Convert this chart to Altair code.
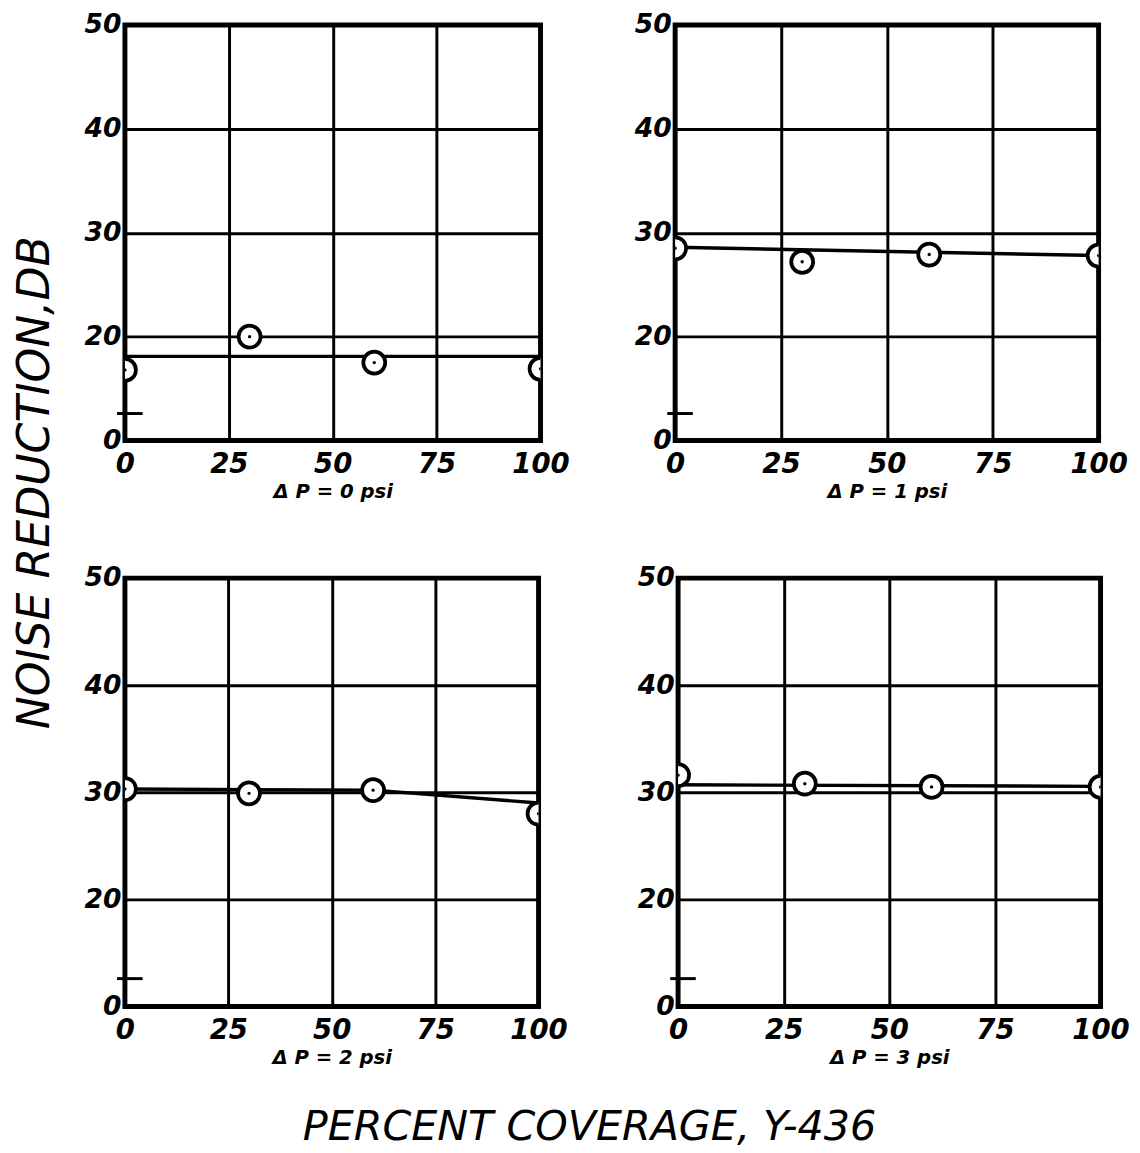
import altair as alt
import pandas as pd

# ---------------- data ----------------
coverage = [0, 30, 60, 100]                      # percent coverage of measured points
panel_titles = ["Δ P = 0  psi", "Δ P = 1  psi", "Δ P = 2  psi", "Δ P = 3  psi"]

nr_dp0 = [16.8, 20.0, 17.5, 16.9]                # noise reduction, dB
nr_dp1 = [28.5, 27.2, 27.9, 27.8]
nr_dp2 = [30.3, 29.9, 30.2, 28.0]
nr_dp3 = [31.6, 30.8, 30.5, 30.5]

fit_x_dp0 = [0, 100]
fit_y_dp0 = [18.1, 18.1]
fit_x_dp1 = [0, 100]
fit_y_dp1 = [28.6, 27.8]
fit_x_dp2 = [0, 60, 100]
fit_y_dp2 = [30.3, 30.2, 29.0]
fit_x_dp3 = [0, 100]
fit_y_dp3 = [30.7, 30.55]

x_ticks = [0, 25, 50, 75, 100]
y_ticks = [10, 20, 30, 40, 50]                   # 10 = broken-axis position, labelled "0"
break_x = [0]
break_y = [12.6]

FONT = "DejaVu Sans"


def panel(nr, fx, fy, title, w, h):
    pts = pd.DataFrame({"cov": coverage, "nr": nr})
    fit = pd.DataFrame({"cov": fx, "nr": fy})
    brk = pd.DataFrame({"cov": break_x, "nr": break_y})

    xs = alt.Scale(domain=[0, 100], nice=False, zero=False)
    ys = alt.Scale(domain=[10, 50], nice=False, zero=False)
    xax = alt.Axis(values=x_ticks, grid=True, gridColor="black", gridWidth=3, gridOpacity=1,
                   ticks=False, domain=False, labelFont=FONT, labelFontSize=28,
                   labelFontStyle="italic", labelFontWeight="bold", labelPadding=11,
                   labelColor="black", labelFlush=False,
                   title=title, titleFont=FONT, titleFontSize=20, titleFontStyle="italic",
                   titleFontWeight="bold", titleColor="black", titlePadding=3)
    yax = alt.Axis(values=y_ticks, grid=True, gridColor="black", gridWidth=3, gridOpacity=1,
                   ticks=False, domain=False, labelFont=FONT, labelFontSize=27,
                   labelFontStyle="italic", labelFontWeight="bold", labelPadding=4,
                   labelColor="black", labelFlush=False,
                   labelExpr="datum.value == 10 ? '0' : datum.label", title=None)

    base_grid = alt.Chart(fit).mark_line(opacity=0).encode(
        x=alt.X("cov:Q", scale=xs, axis=xax),
        y=alt.Y("nr:Q", scale=ys, axis=yax),
    )
    line = alt.Chart(fit).mark_line(color="black", strokeWidth=3.5).encode(
        x=alt.X("cov:Q", scale=xs), y=alt.Y("nr:Q", scale=ys))
    circles = alt.Chart(pts).mark_point(shape="circle", size=500, filled=False,
                                        stroke="black", strokeWidth=3.8, fill="white",
                                        fillOpacity=1, opacity=1, clip=True).encode(
        x=alt.X("cov:Q", scale=xs), y=alt.Y("nr:Q", scale=ys))
    dots = alt.Chart(pts).mark_point(shape="circle", size=12, filled=True,
                                     color="black", opacity=1, clip=True).encode(
        x=alt.X("cov:Q", scale=xs), y=alt.Y("nr:Q", scale=ys))
    brk_mark = alt.Chart(brk).mark_tick(orient="horizontal", color="black", size=26,
                                         thickness=3, opacity=1, xOffset=5).encode(
        x=alt.X("cov:Q", scale=xs), y=alt.Y("nr:Q", scale=ys))

    return alt.layer(base_grid, line, circles, dots, brk_mark).properties(
        width=w, height=h,
        view=alt.ViewBackground(stroke="black", strokeWidth=5, fill="white"))


p1 = panel(nr_dp0, fit_x_dp0, fit_y_dp0, panel_titles[0], 423, 423)
p2 = panel(nr_dp1, fit_x_dp1, fit_y_dp1, panel_titles[1], 431, 423)
p3 = panel(nr_dp2, fit_x_dp2, fit_y_dp2, panel_titles[2], 421, 436)
p4 = panel(nr_dp3, fit_x_dp3, fit_y_dp3, panel_titles[3], 430, 436)

grid = alt.vconcat(
    alt.hconcat(p1, p2, spacing=60),
    alt.hconcat(p3, p4, spacing=65),
    spacing=58,
)

ytitle = alt.Chart(pd.DataFrame({"t": ["NOISE       REDUCTION,DB"]})).mark_text(
    angle=270, font=FONT, fontSize=45, fontStyle="italic", color="black"
).encode(text="t:N", x=alt.value(28), y=alt.value(466)).properties(
    width=48, height=1000,
    view=alt.ViewBackground(stroke="transparent", strokeWidth=0))

chart = alt.hconcat(ytitle, grid, spacing=22).properties(
    title=alt.TitleParams("PERCENT COVERAGE, Y-436", orient="bottom", anchor="middle",
                          font=FONT, fontSize=42, fontStyle="italic", fontWeight="normal",
                          color="black", offset=38, dx=20),
    padding={"left": 0, "top": -10, "right": 0, "bottom": 0},
).configure(background="white")

chart.save("out.html", embed_options={"renderer": "svg", "actions": False})
